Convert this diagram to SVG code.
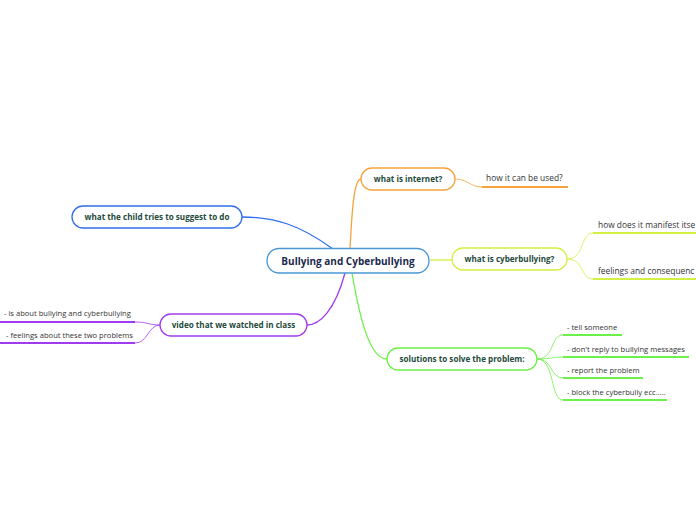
<svg xmlns="http://www.w3.org/2000/svg" width="696" height="520" viewBox="0 0 696 520">
<style>
.n{fill:#fff;stroke-width:1.3}
.t{font-family:"Open Sans","Noto Sans",sans-serif;font-weight:bold;font-size:8.1px;fill:#1e4a3b;text-anchor:middle}
.s{font-family:"Open Sans","Noto Sans",sans-serif;font-size:7.6px;fill:#333}
.s2{font-family:"Open Sans","Noto Sans",sans-serif;font-size:8.4px;fill:#333}
.c{fill:none;stroke-width:1.3}
.cs{fill:none;stroke-width:0.8}
.u{fill:none;stroke-width:1.8}
</style>
<rect width="696" height="520" fill="#fff"/>
<g id="connectors">
<path class="c" stroke="#f5a33a" d="M350 249 C352 210 354 179 361 179"/>
<path class="c" stroke="#2f6ef0" d="M333 249 C300 225 275 217 242 217"/>
<path class="c" stroke="#d2f040" d="M430 260 L452 260"/>
<path class="c" stroke="#6ef04a" d="M352 273 C360 320 370 359 387 359"/>
<path class="c" stroke="#a03cf0" d="M345 273 C335 310 320 325 307 325"/>
<path class="cs" stroke="#f5a33a" d="M455 179 C468 179 470 187 482 187"/>
<path class="cs" stroke="#d2f040" d="M567 259 C585 259 580 233 593 233"/>
<path class="cs" stroke="#d2f040" d="M567 259 C585 259 580 279 593 279"/>
<path class="cs" stroke="#6ef04a" d="M537 359 C555 359 550 335 563 335"/>
<path class="cs" stroke="#6ef04a" d="M537 359 C553 359 550 357 563 357"/>
<path class="cs" stroke="#6ef04a" d="M537 359 C553 359 550 378 563 378"/>
<path class="cs" stroke="#6ef04a" d="M537 359 C555 359 550 400 563 400"/>
<path class="cs" stroke="#a03cf0" d="M160 325 C148 325 148 322 135 322"/>
<path class="cs" stroke="#a03cf0" d="M160 325 C148 325 148 343 135 343"/>
</g>
<g id="center">
<rect class="n" x="267" y="248.5" width="162" height="24.5" rx="12" stroke="#4a98d6"/>
<text x="348" y="265" text-anchor="middle" style="font-family:'Open Sans','Noto Sans',sans-serif;font-weight:bold;font-size:10px;fill:#1b2a4e">Bullying and Cyberbullying</text>
</g>
<g id="internet">
<rect class="n" x="361" y="168" width="94" height="22" rx="11" stroke="#f5a33a"/>
<text class="t" x="408" y="182">what is internet?</text>
</g>
<g id="internet-used">
<text class="s2" x="486" y="181">how it can be used?</text>
<path class="u" stroke="#f5a33a" d="M482 187 H568"/>
</g>
<g id="cyber">
<rect class="n" x="452" y="248" width="115" height="22" rx="11" stroke="#d2f040"/>
<text class="t" x="509.5" y="262">what is cyberbullying?</text>
</g>
<g id="cyber-manifest">
<text class="s2" x="598" y="228">how does it manifest itse</text>
<path class="u" stroke="#d2f040" d="M593 233 H696"/>
</g>
<g id="cyber-feelings">
<text class="s2" x="598" y="274">feelings and consequenc</text>
<path class="u" stroke="#d2f040" d="M593 279 H696"/>
</g>
<g id="solutions">
<rect class="n" x="387" y="348" width="150" height="22" rx="11" stroke="#6ef04a"/>
<text class="t" x="462" y="362">solutions to solve the problem:</text>
</g>
<g id="sol-tell">
<text class="s" x="567" y="330">- tell someone</text>
<path class="u" stroke="#6ef04a" d="M563 335 H622"/>
</g>
<g id="sol-reply">
<text class="s" x="567" y="352">- don't reply to bullying messages</text>
<path class="u" stroke="#6ef04a" d="M563 357 H689"/>
</g>
<g id="sol-report">
<text class="s" x="567" y="373">- report the problem</text>
<path class="u" stroke="#6ef04a" d="M563 378 H643"/>
</g>
<g id="sol-block">
<text class="s" x="567" y="395">- block the cyberbully ecc.....</text>
<path class="u" stroke="#6ef04a" d="M563 400 H667"/>
</g>
<g id="child">
<rect class="n" x="72" y="206" width="170" height="22" rx="11" stroke="#2f6ef0"/>
<text class="t" x="157" y="220">what the child tries to suggest to do</text>
</g>
<g id="video">
<rect class="n" x="160" y="314" width="147" height="22" rx="11" stroke="#a03cf0"/>
<text class="t" x="233.5" y="328">video that we watched in class</text>
</g>
<g id="video-about">
<text class="s" x="4" y="316">- is about bullying and cyberbullying</text>
<path class="u" stroke="#a03cf0" d="M0 322 H135"/>
</g>
<g id="video-feelings">
<text class="s" x="6" y="338">- feelings about these two problems</text>
<path class="u" stroke="#a03cf0" d="M0 343 H135"/>
</g>
</svg>
